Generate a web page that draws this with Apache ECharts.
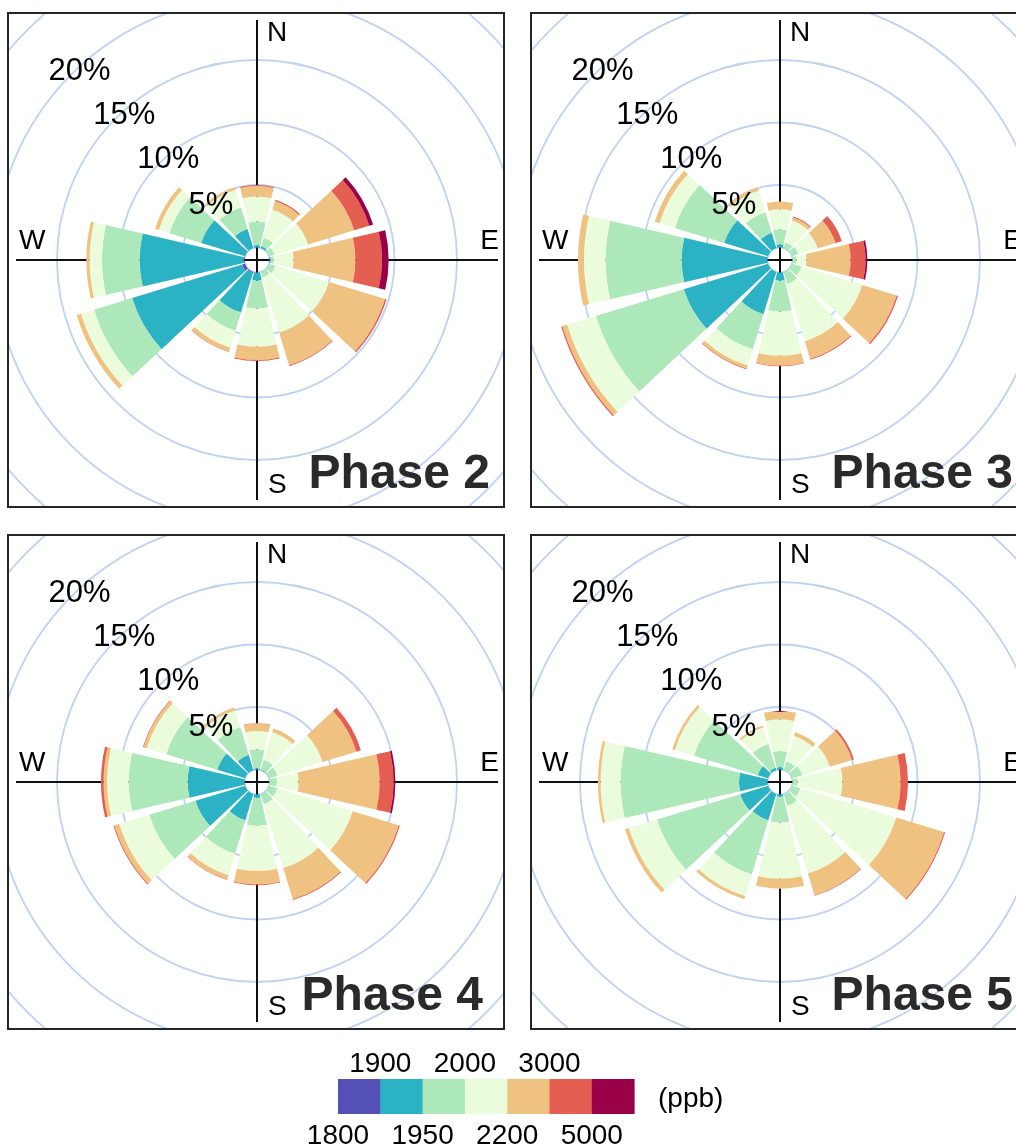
<!DOCTYPE html>
<html>
<head>
<meta charset="utf-8">
<title>Pollution roses by phase</title>
<script src="https://cdn.jsdelivr.net/npm/echarts@6/dist/echarts.min.js"></script>
<style>
  html, body { margin: 0; padding: 0; background: #fff; }
  body { position: relative; width: 1016px; height: 1147px; overflow: hidden; font-family: "Liberation Sans", Arial, sans-serif; }
  .panel { position: absolute; width: 498px; height: 496px; box-sizing: border-box; border: 2px solid #262626; overflow: hidden; background: #fff; }
  .chart { position: absolute; left: 0; top: 0; width: 494px; height: 492px; }
  #legend { position: absolute; left: 0; top: 1030px; width: 1016px; height: 117px; }
</style>
</head>
<body>
<div class="panel" style="left:7px;top:12px;"><div class="chart" id="p2"></div></div>
<div class="panel" style="left:530px;top:12px;"><div class="chart" id="p3"></div></div>
<div class="panel" style="left:7px;top:534px;"><div class="chart" id="p4"></div></div>
<div class="panel" style="left:530px;top:534px;"><div class="chart" id="p5"></div></div>
<div id="legend"></div>
<script>
// Wind sectors (degrees clockwise from north), 30° each
const directions = ['0', '30', '60', '90', '120', '150', '180', '210', '240', '270', '300', '330'];

// Concentration bins (ppb) and their colours
const binNames = ['1800–1900', '1900–1950', '1950–2000', '2000–2200', '2200–3000', '3000–5000', '>5000'];
const binColors = ['#5550b5', '#2bb2c4', '#ade8ba', '#ebfcdd', '#efc282', '#e45f52', '#990048'];

// Colour-bar tick labels: boundaries shown above and below the bar
const ticksAbove = ['1900', '2000', '3000'];
const ticksBelow = ['1800', '1950', '2200', '5000'];

// Frequency (%) per sector; one row per concentration bin, low to high
const phase2 = [
  [0, 0, 0, 0, 0, 0, 0, 0.1, 0.25, 0.1, 0, 0],
  [0.2, 0.15, 0, 0.1, 0, 0, 0.65, 3.3, 9.2, 8.29, 3.67, 1.59],
  [1.87, 0.72, 0.47, 0.23, 0.55, 0.47, 2.22, 1.52, 3.18, 3.01, 2.66, 1.81],
  [2.0, 2.34, 2.8, 1.6, 4.48, 4.61, 3.06, 1.41, 1.09, 0.99, 0.88, 1.47],
  [0.85, 0.72, 3.86, 4.94, 4.69, 2.72, 1.07, 0.32, 0.37, 0.26, 0.32, 0.21],
  [0.08, 0.11, 1.26, 2.13, 0.11, 0.08, 0.08, 0.05, 0, 0, 0, 0],
  [0, 0, 0.32, 0.53, 0, 0, 0, 0, 0, 0, 0, 0]
];
const phase3 = [
  [0, 0, 0, 0, 0, 0, 0, 0, 0, 0, 0, 0],
  [0.25, 0, 0, 0, 0, 0, 0.65, 3.53, 7.05, 6.87, 3.67, 1.27],
  [1.2, 0.47, 0.55, 0.33, 0.81, 1.0, 2.48, 2.94, 7.35, 6.08, 4.13, 1.73],
  [1.6, 1.81, 1.6, 0.8, 5.07, 4.8, 3.52, 1.36, 2.4, 1.73, 1.28, 1.81],
  [0.62, 0.27, 1.49, 3.52, 2.88, 1.47, 0.8, 0.27, 0.4, 0.48, 0.4, 0.27],
  [0, 0.08, 0.53, 1.2, 0.11, 0.08, 0.05, 0.05, 0.1, 0, 0, 0],
  [0, 0, 0, 0.14, 0, 0, 0, 0, 0, 0, 0, 0]
];
const phase4 = [
  [0, 0, 0, 0, 0, 0, 0, 0, 0, 0, 0, 0],
  [0.1, 0.05, 0, 0, 0, 0, 0.28, 2.2, 4.15, 4.55, 2.33, 1.27],
  [1.51, 0.82, 0.73, 0.6, 0.73, 0.87, 2.24, 2.8, 3.86, 4.72, 4.27, 2.32],
  [1.47, 2.29, 3.74, 1.73, 6.27, 5.33, 3.6, 1.79, 2.51, 1.73, 1.63, 1.41],
  [0.61, 0.32, 2.85, 6.48, 3.85, 2.6, 1.07, 0.36, 0.4, 0.27, 0.27, 0.24],
  [0.03, 0, 0.37, 1.12, 0.1, 0.07, 0.06, 0.04, 0.08, 0.21, 0.05, 0],
  [0, 0, 0, 0.14, 0, 0, 0, 0, 0, 0, 0, 0]
];
const phase5 = [
  [0, 0, 0, 0, 0, 0, 0, 0, 0, 0, 0, 0],
  [0.2, 0, 0, 0, 0, 0, 0.2, 2.2, 2.33, 2.28, 0.87, 0.2],
  [1.28, 0.73, 0.87, 0.4, 0.73, 1.0, 2.05, 4.53, 6.96, 9.47, 5.33, 1.97],
  [2.53, 2.11, 2.29, 3.59, 8.0, 5.65, 4.48, 1.82, 2.35, 1.6, 1.6, 1.38],
  [0.67, 0.32, 1.87, 4.66, 3.99, 1.82, 0.8, 0.26, 0.32, 0.21, 0.21, 0.17],
  [0, 0, 0.16, 0.59, 0.09, 0.05, 0, 0, 0, 0, 0, 0],
  [0, 0, 0, 0, 0, 0, 0, 0, 0, 0, 0, 0]
];

// Frequency rings that carry a label, and the bearing each label sits at
const ringLabels = [5, 10, 15, 20];
const ringLabelBearings = [320, 318.7, 317.7, 316.9];

const FONT = '"Liberation Sans", Arial, sans-serif';
const CX = 248, CY = 246;          // rose centre inside each panel
const HOLE = 12.5, OUTER = 387.5;  // radial extent for 0–30 %

function txt(text, x, y, size, align, weight, color) {
  return {
    type: 'text', x: x, y: y, z: 20,
    style: {
      text: text, font: (weight || 'normal') + ' ' + size + 'px ' + FONT,
      fill: color || '#000', align: align, textAlign: align,
      verticalAlign: 'middle', textVerticalAlign: 'middle'
    }
  };
}

function roseOption(bins, title, titleRight) {
  const bars = bins.map((vals, i) => ({
    type: 'bar', coordinateSystem: 'polar', polarIndex: 0,
    name: binNames[i], stack: 'freq', data: vals,
    barCategoryGap: '13%', z: 3, silent: true,
    itemStyle: { color: binColors[i], borderWidth: 0 }
  }));
  const ringText = {
    type: 'scatter', coordinateSystem: 'polar', polarIndex: 1, z: 20, silent: true,
    symbol: 'circle', symbolSize: 0, itemStyle: { color: '#000' },
    data: ringLabels.map((v, i) => [v, ringLabelBearings[i]]),
    label: {
      show: true, position: 'inside', offset: [2, 3],
      formatter: p => p.value[0] + '%',
      fontFamily: FONT, fontSize: 31, color: '#000', textBorderWidth: 0, opacity: 1
    }
  };
  return {
    animation: false,
    polar: [
      { center: [CX, CY], radius: [HOLE, OUTER] },
      { center: [CX, CY], radius: [HOLE, OUTER] }
    ],
    angleAxis: [
      {
        polarIndex: 0, type: 'category', data: directions, startAngle: 105, clockwise: true,
        axisLine: { show: false }, axisTick: { show: false }, axisLabel: { show: false },
        splitLine: { show: false }, splitArea: { show: false }
      },
      { polarIndex: 1, type: 'value', min: 0, max: 360, startAngle: 90, clockwise: true, show: false }
    ],
    radiusAxis: [
      {
        polarIndex: 0, type: 'value', min: 0, max: 30, interval: 5,
        axisLine: { show: false }, axisTick: { show: false }, axisLabel: { show: false },
        splitLine: { show: true, lineStyle: { color: '#bfd2f3', width: 1.8 } },
        splitArea: { show: false }
      },
      { polarIndex: 1, type: 'value', min: 0, max: 30, show: false }
    ],
    series: bars.concat([ringText]),
    graphic: [
      { type: 'line', z: 1, shape: { x1: CX, y1: 6, x2: CX, y2: 486 }, style: { stroke: '#111', lineWidth: 2 } },
      { type: 'line', z: 1, shape: { x1: 7, y1: CY, x2: 489, y2: CY }, style: { stroke: '#111', lineWidth: 2 } },
      txt('N', 258, 19, 28, 'left'),
      txt('W', 10, 227, 28, 'left'),
      txt('E', 490, 227, 28, 'right'),
      txt('S', 259, 471, 28, 'left'),
      txt(title, titleRight, 461, 48, 'right', 'bold', '#2a2a2a')
    ]
  };
}

const panels = [
  ['p2', phase2, 'Phase 2', 481],
  ['p3', phase3, 'Phase 3', 481],
  ['p4', phase4, 'Phase 4', 474],
  ['p5', phase5, 'Phase 5', 481]
];
panels.forEach(([id, data, title, right]) => {
  const chart = echarts.init(document.getElementById(id), null, { renderer: 'canvas' });
  chart.setOption(roseOption(data, title, right));
});

// Colour bar with bin boundaries
(function () {
  const chart = echarts.init(document.getElementById('legend'), null, { renderer: 'canvas' });
  const x0 = 338, w = 42.3, y0 = 49, h = 35;
  const els = binColors.map((c, i) => ({
    type: 'rect', shape: { x: x0 + i * w, y: y0, width: w + 0.5, height: h },
    style: { fill: c }
  }));
  ticksAbove.forEach((t, i) => els.push(txt(t, x0 + (2 * i + 1) * w, 34, 28, 'center')));
  ticksBelow.forEach((t, i) => els.push(txt(t, x0 + 2 * i * w, 106, 28, 'center')));
  els.push(txt('(ppb)', 658, 69, 28, 'left'));
  chart.setOption({ animation: false, graphic: els });
})();
</script>
</body>
</html>
